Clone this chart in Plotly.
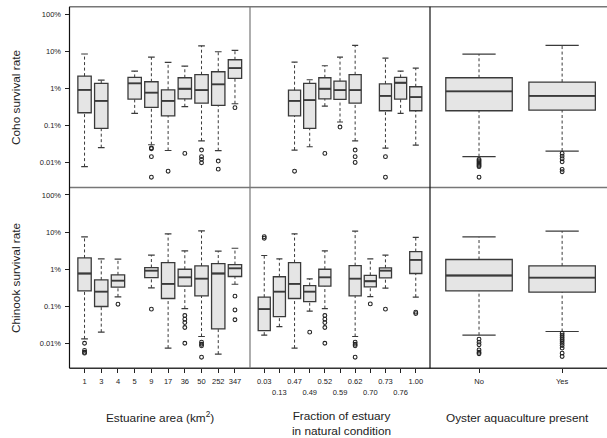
import plotly.graph_objects as go

# ---------------- data (survival rate in %) ----------------
area_labels = ["1", "3", "4", "5", "9", "17", "36", "50", "252", "347"]
fraction_labels = ["0.03", "0.13", "0.47", "0.49", "0.52", "0.59", "0.62", "0.70", "0.73", "0.76", "1.00"]
oyster_labels = ["No", "Yes"]
y_tick_vals = [100, 10, 1, 0.1, 0.01]
y_tick_text = ["100%", "10%", "1%", "0.1%", "0.01%"]

# Coho - estuarine area
coho_area_cat = ["1", "3", "5", "9", "17", "36", "50", "252", "347"]
coho_area_lo = [0.0077, 0.025, 0.21, 0.030, 0.021, 0.318, 0.038, 0.0207, 0.383]
coho_area_q1 = [0.219, 0.083, 0.51, 0.305, 0.18, 0.52, 0.40, 0.345, 1.85]
coho_area_med = [0.91, 0.46, 1.35, 0.76, 0.46, 0.97, 0.89, 1.27, 3.5]
coho_area_q3 = [2.13, 1.35, 1.96, 1.5, 0.91, 1.92, 2.32, 2.79, 5.87]
coho_area_hi = [8.4, 1.66, 2.9, 6.9, 5.0, 3.96, 14.0, 9.66, 10.5]
coho_area_out = [[], [], [], [0.0245, 0.0235, 0.0143, 0.0040], [0.0058], [0.0175],
                 [0.0216, 0.0143, 0.0121, 0.0098], [0.0109, 0.0066], [0.30]]

# Coho - fraction natural
coho_frac_cat = ["0.47", "0.49", "0.52", "0.59", "0.62", "0.73", "0.76", "1.00"]
coho_frac_lo = [0.0216, 0.0265, 0.33, 0.123, 0.038, 0.0244, 0.21, 0.0294]
coho_frac_q1 = [0.18, 0.083, 0.52, 0.50, 0.40, 0.248, 0.51, 0.248]
coho_frac_med = [0.46, 0.48, 0.97, 0.89, 0.89, 0.62, 1.41, 0.58]
coho_frac_q3 = [0.89, 1.35, 1.92, 1.56, 2.32, 1.32, 1.96, 1.10]
coho_frac_hi = [5.08, 1.70, 4.05, 6.9, 14.3, 6.5, 2.91, 3.5]
coho_frac_out = [[0.0058], [], [0.0175], [0.090], [0.0216, 0.0143, 0.0100], [0.0143, 0.0040], [], []]

# Coho - oyster aquaculture
coho_oy_cat = ["No", "Yes"]
coho_oy_lo = [0.0143, 0.0203]
coho_oy_q1 = [0.248, 0.258]
coho_oy_med = [0.82, 0.62]
coho_oy_q3 = [1.92, 1.47]
coho_oy_hi = [8.36, 14.3]
coho_oy_out = [[0.0121, 0.0112, 0.0104, 0.0096, 0.0089, 0.0083, 0.0077, 0.0040],
               [0.0175, 0.0148, 0.0126, 0.0104, 0.0065, 0.0056]]

# Chinook - estuarine area
chin_area_cat = ["1", "3", "4", "9", "17", "36", "50", "252", "347"]
chin_area_lo = [0.0131, 0.0199, 0.178, 0.311, 0.0074, 0.086, 0.0152, 0.0051, 0.39]
chin_area_q1 = [0.258, 0.098, 0.324, 0.59, 0.161, 0.345, 0.19, 0.0244, 0.63]
chin_area_med = [0.76, 0.248, 0.49, 0.91, 0.40, 0.60, 0.556, 0.76, 1.05]
chin_area_q3 = [2.0, 0.51, 0.70, 1.10, 1.50, 0.99, 1.22, 1.41, 1.32]
chin_area_hi = [7.38, 1.88, 1.85, 2.37, 8.9, 3.1, 10.7, 3.04, 3.65]
chin_area_out = [[0.010, 0.0064, 0.0057, 0.0054], [], [0.113], [0.083], [],
                 [0.056, 0.0445, 0.036, 0.0266, 0.010], [0.0107, 0.0094, 0.0085, 0.0042], [],
                 [0.186, 0.079, 0.043]]

# Chinook - fraction natural
chin_frac_cat = ["0.03", "0.13", "0.47", "0.49", "0.52", "0.62", "0.70", "0.73", "1.00"]
chin_frac_lo = [0.0165, 0.028, 0.0074, 0.073, 0.086, 0.0152, 0.18, 0.305, 0.175]
chin_frac_q1 = [0.022, 0.052, 0.161, 0.133, 0.345, 0.19, 0.33, 0.58, 0.76]
chin_frac_med = [0.083, 0.248, 0.40, 0.248, 0.60, 0.556, 0.47, 0.91, 1.77]
chin_frac_q3 = [0.175, 0.62, 1.50, 0.36, 0.99, 1.24, 0.68, 1.08, 2.97]
chin_frac_hi = [2.32, 1.88, 8.9, 0.544, 3.1, 10.5, 1.88, 2.37, 7.2]
chin_frac_out = [[7.5, 6.8], [], [], [0.0199], [0.056, 0.0445, 0.036, 0.0266, 0.010],
                 [0.0107, 0.0094, 0.0085, 0.0042], [0.115], [0.083], [0.069, 0.063]]

# Chinook - oyster aquaculture
chin_oy_cat = ["No", "Yes"]
chin_oy_lo = [0.0165, 0.0207]
chin_oy_q1 = [0.258, 0.238]
chin_oy_med = [0.67, 0.59]
chin_oy_q3 = [1.81, 1.22]
chin_oy_hi = [7.38, 10.5]
chin_oy_out = [[0.0129, 0.0107, 0.0091, 0.0066, 0.0057, 0.0052],
               [0.0187, 0.0165, 0.0146, 0.0129, 0.0114, 0.010, 0.0087, 0.0074, 0.0054, 0.0044]]

# ---------------- styling ----------------
W, H = 607, 438
FONT = "Liberation Sans, Arial, Helvetica, sans-serif"
BOX_FILL = "#e5e5e5"
LINE_C = "#3a3a3a"
FRAME_C = "#777777"

def px_x(p):
    return p / W

def px_y(p):
    return 1 - p / H

col_px = [69.5, 250, 430, 607]
row_px = [6.7, 187.5, 368.3]

panels = [
    (area_labels, coho_area_cat, coho_area_lo, coho_area_q1, coho_area_med, coho_area_q3, coho_area_hi, coho_area_out, ""),
    (fraction_labels, coho_frac_cat, coho_frac_lo, coho_frac_q1, coho_frac_med, coho_frac_q3, coho_frac_hi, coho_frac_out, "2"),
    (oyster_labels, coho_oy_cat, coho_oy_lo, coho_oy_q1, coho_oy_med, coho_oy_q3, coho_oy_hi, coho_oy_out, "3"),
    (area_labels, chin_area_cat, chin_area_lo, chin_area_q1, chin_area_med, chin_area_q3, chin_area_hi, chin_area_out, "4"),
    (fraction_labels, chin_frac_cat, chin_frac_lo, chin_frac_q1, chin_frac_med, chin_frac_q3, chin_frac_hi, chin_frac_out, "5"),
    (oyster_labels, chin_oy_cat, chin_oy_lo, chin_oy_q1, chin_oy_med, chin_oy_q3, chin_oy_hi, chin_oy_out, "6"),
]

fig = go.Figure()

for labels, cat, lo, q1, med, q3, hi, out, sfx in panels:
    xa, ya = "x" + sfx, "y" + sfx
    pos = [labels.index(c) + 1 for c in cat]
    wx, wy = [], []
    for p, l, a, b, h in zip(pos, lo, q1, q3, hi):
        wx += [p, p, None, p, p, None]
        wy += [l, a, None, b, h, None]
    fig.add_trace(go.Scatter(x=wx, y=wy, mode="lines", xaxis=xa, yaxis=ya,
                             line=dict(color=LINE_C, width=1, dash="3px,2.5px"),
                             showlegend=False, hoverinfo="skip"))
    sx, sy = [], []
    for p, l, h in zip(pos, lo, hi):
        sx += [p - 0.2, p + 0.2, None, p - 0.2, p + 0.2, None]
        sy += [l, l, None, h, h, None]
    fig.add_trace(go.Scatter(x=sx, y=sy, mode="lines", xaxis=xa, yaxis=ya,
                             line=dict(color=LINE_C, width=1.2),
                             showlegend=False, hoverinfo="skip"))
    fig.add_trace(go.Box(x=pos, q1=q1, median=med, q3=q3, lowerfence=q1, upperfence=q3,
                         width=0.8, whiskerwidth=0, fillcolor=BOX_FILL,
                         line=dict(color=LINE_C, width=1.3), xaxis=xa, yaxis=ya,
                         showlegend=False, hoverinfo="skip"))
    mx, my = [], []
    for p, m in zip(pos, med):
        mx += [p - 0.4, p + 0.4, None]
        my += [m, m, None]
    fig.add_trace(go.Scatter(x=mx, y=my, mode="lines", xaxis=xa, yaxis=ya,
                             line=dict(color=LINE_C, width=1.8),
                             showlegend=False, hoverinfo="skip"))
    ox, oy = [], []
    for p, o in zip(pos, out):
        ox += [p] * len(o)
        oy += o
    fig.add_trace(go.Scatter(x=ox, y=oy, mode="markers", xaxis=xa, yaxis=ya,
                             marker=dict(symbol="circle-open", size=3.8, color="#222",
                                         line=dict(width=1.1, color="#222")),
                             showlegend=False, hoverinfo="skip"))

# invisible trace so the second-row label axis of the fraction panel is drawn
tv2 = list(range(2, len(fraction_labels) + 1, 2))
fig.add_trace(go.Scatter(x=tv2, y=[1] * len(tv2), xaxis="x7", yaxis="y5", mode="markers",
                         marker=dict(opacity=0), showlegend=False, hoverinfo="skip"))

y_range = [-2.676, 2.2]
x_ranges = [[0.1, 10.9], [0.06, 11.94], [0.41, 2.54]]
tick_font = dict(family=FONT, size=7.5, color="#222")

layout = dict(width=W, height=H, margin=dict(l=0, r=0, t=0, b=0),
              paper_bgcolor="white", plot_bgcolor="white", font=dict(family=FONT))

for r in range(2):
    for c in range(3):
        idx = r * 3 + c + 1
        sfx = "" if idx == 1 else str(idx)
        labels = [area_labels, fraction_labels, oyster_labels][c]
        xd = [px_x(col_px[c]), px_x(col_px[c + 1])]
        yd = [px_y(row_px[r + 1]), px_y(row_px[r])]
        xax = dict(domain=xd, range=x_ranges[c], anchor="y" + sfx, showgrid=False,
                   zeroline=False, showline=False, tickfont=tick_font)
        if r == 1:
            if c == 1:
                tv = list(range(1, len(labels) + 1, 2))
                xax.update(tickmode="array", tickvals=tv, ticktext=[labels[i - 1] for i in tv],
                           ticks="outside", ticklen=4, tickcolor="#222", tickwidth=1,
                           ticklabelstandoff=2)
            else:
                xax.update(tickmode="array", tickvals=list(range(1, len(labels) + 1)),
                           ticktext=labels, ticks="outside", ticklen=4, tickcolor="#222",
                           tickwidth=1, ticklabelstandoff=2)
        else:
            xax.update(showticklabels=False, ticks="")
        yax = dict(domain=yd, range=y_range, type="log", anchor="x" + sfx, showgrid=False,
                   zeroline=False, showline=False, tickfont=tick_font)
        if c == 0:
            yax.update(tickmode="array", tickvals=y_tick_vals, ticktext=y_tick_text,
                       ticks="outside", ticklen=4, tickcolor="#222", tickwidth=1,
                       ticklabelstandoff=2)
        else:
            yax.update(showticklabels=False, ticks="")
        layout["xaxis" + sfx] = xax
        layout["yaxis" + sfx] = yax

layout["xaxis7"] = dict(domain=[px_x(col_px[1]), px_x(col_px[2])], range=x_ranges[1],
                        overlaying="x5", anchor="y5", side="bottom", showgrid=False,
                        zeroline=False, showline=False, tickmode="array", tickvals=tv2,
                        ticktext=[fraction_labels[i - 1] for i in tv2], ticks="outside",
                        ticklen=4, tickcolor="#222", tickwidth=1, tickfont=tick_font,
                        ticklabelstandoff=13)

shapes = []
for yp, col in zip(row_px, [FRAME_C, FRAME_C, "#333"]):
    shapes.append(dict(type="line", xref="paper", yref="paper", x0=px_x(col_px[0]), x1=1,
                       y0=px_y(yp), y1=px_y(yp), line=dict(color=col, width=1.6)))
for xp, col in zip(col_px[:3], ["#111", FRAME_C, "#111"]):
    shapes.append(dict(type="line", xref="paper", yref="paper", x0=px_x(xp), x1=px_x(xp),
                       y0=px_y(row_px[2]), y1=px_y(row_px[0]), line=dict(color=col, width=1.2)))
layout["shapes"] = shapes

title_font = dict(family=FONT, size=11.8, color="#222")
annotations = [
    dict(text="Coho survival rate", x=px_x(16), y=px_y(97), textangle=-90),
    dict(text="Chinook survival rate", x=px_x(16), y=px_y(278), textangle=-90),
    dict(text="Estuarine area (km<sup>2</sup>)", x=px_x(160.5), y=px_y(417)),
    dict(text="Fraction of estuary<br>in natural condition", x=px_x(341), y=px_y(423.5)),
    dict(text="Oyster aquaculture present", x=px_x(517), y=px_y(418)),
]
for a in annotations:
    a.update(xref="paper", yref="paper", showarrow=False, font=title_font,
             xanchor="center", yanchor="middle")
layout["annotations"] = annotations

fig.update_layout(**layout)
fig.write_html("out.html", post_script="document.body.style.margin='0px';",
               config={"displayModeBar": False})
